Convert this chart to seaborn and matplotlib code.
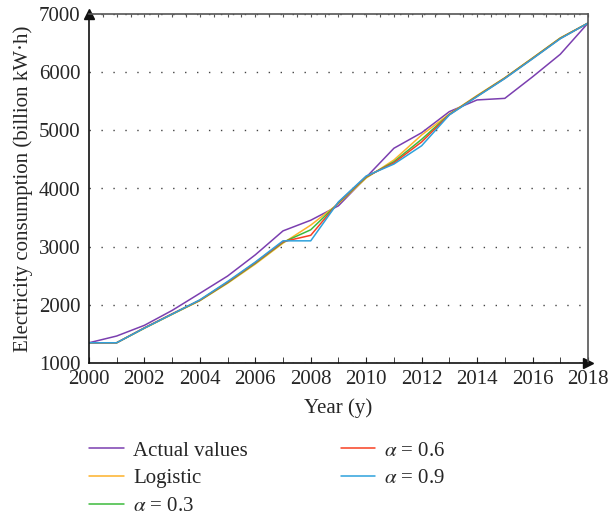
import numpy as np
import pandas as pd
import matplotlib
matplotlib.use("Agg")
import matplotlib.pyplot as plt
import seaborn as sns

years = list(range(2000, 2019))
actual = [1347, 1463, 1647, 1903, 2197, 2494, 2859, 3271, 3454, 3703,
          4193, 4692, 4959, 5322, 5523, 5550, 5920, 6308, 6844]
logistic = [1347, 1347, 1595, 1835, 2070, 2370, 2700, 3060, 3370, 3740,
            4180, 4490, 4920, 5280, 5600, 5905, 6245, 6590, 6844]
alpha_03 = [1347, 1347, 1600, 1840, 2075, 2380, 2715, 3075, 3290, 3750,
            4195, 4460, 4845, 5275, 5590, 5900, 6240, 6585, 6844]
alpha_06 = [1347, 1347, 1605, 1845, 2080, 2390, 2725, 3085, 3195, 3760,
            4205, 4440, 4800, 5270, 5585, 5895, 6235, 6580, 6844]
alpha_09 = [1347, 1347, 1600, 1840, 2085, 2400, 2735, 3100, 3100, 3770,
            4215, 4420, 4735, 5265, 5580, 5890, 6230, 6575, 6844]

names = ["Actual values", "Logistic", r"$\alpha$ = 0.3", r"$\alpha$ = 0.6", r"$\alpha$ = 0.9"]
series = [actual, logistic, alpha_03, alpha_06, alpha_09]
colors = ["#7B3FB0", "#FDB22A", "#3CBB3C", "#F84022", "#2EA2DC"]

rows = []
for name, vals in zip(names, series):
    for y, v in zip(years, vals):
        rows.append({"Year": y, "Value": v, "Series": name})
df = pd.DataFrame(rows)

sns.set_style("white")
plt.rcParams["font.family"] = ["Liberation Serif", "DejaVu Serif"]
plt.rcParams["mathtext.fontset"] = "stix"

fs = 15
fig = plt.figure(figsize=(6.09, 5.2), dpi=100)
ax = fig.add_axes([0.146, 0.302, 0.8195, 0.671])

sns.lineplot(data=df, x="Year", y="Value", hue="Series", hue_order=names,
             palette=dict(zip(names, colors)), linewidth=1.1, ax=ax, legend=False)

ax.set_xlim(2000, 2018)
ax.set_ylim(1000, 7000)
ax.set_xticks(range(2000, 2019, 2))
ax.set_xticks(range(2000, 2019), minor=True)
ax.set_yticks(range(1000, 7001, 1000))
ax.yaxis.grid(True, linestyle=(0, (1, 7.6)), color="#444444", linewidth=1.0)
ax.xaxis.grid(False)

ax.set_xlabel("Year (y)", fontsize=fs, labelpad=7)
ax.set_ylabel("Electricity consumption (billion kW\u00b7h)", fontsize=fs, labelpad=4)
ax.tick_params(axis="x", which="both", direction="in", length=4, labelsize=fs,
               top=False, bottom=True, color="#222222", pad=5)
ax.tick_params(axis="y", which="both", length=0, labelsize=fs, pad=6)

for s in ["left", "bottom"]:
    ax.spines[s].set_color("#111111")
    ax.spines[s].set_linewidth(1.2)
for s in ["top", "right"]:
    ax.spines[s].set_color("#555555")
    ax.spines[s].set_linewidth(1.2)

# small ticks along the top spine
ax2 = ax.secondary_xaxis("top")
ax2.set_xticks(np.arange(2000, 2018.01, 0.5))
ax2.tick_params(direction="in", length=2, labeltop=False, color="#555555")
ax2.set_xticklabels([])
ax2.spines["top"].set_visible(False)

# arrows on the axes
ax.plot([0], [1.0], marker="^", markersize=7, color="#111111",
        transform=ax.transAxes, clip_on=False)
ax.plot([1.0], [0], marker=">", markersize=7, color="#111111",
        transform=ax.transAxes, clip_on=False)

handles = [plt.Line2D([], [], color=c, linewidth=1.1) for c in colors]
fig.legend(handles, names, ncol=2, loc="upper left", bbox_to_anchor=(0.133, 0.168),
           frameon=False, fontsize=fs, handlelength=1.65, handletextpad=0.45,
           columnspacing=4.45, labelspacing=0.4, borderaxespad=0)

fig.savefig("out.png", dpi=100)
